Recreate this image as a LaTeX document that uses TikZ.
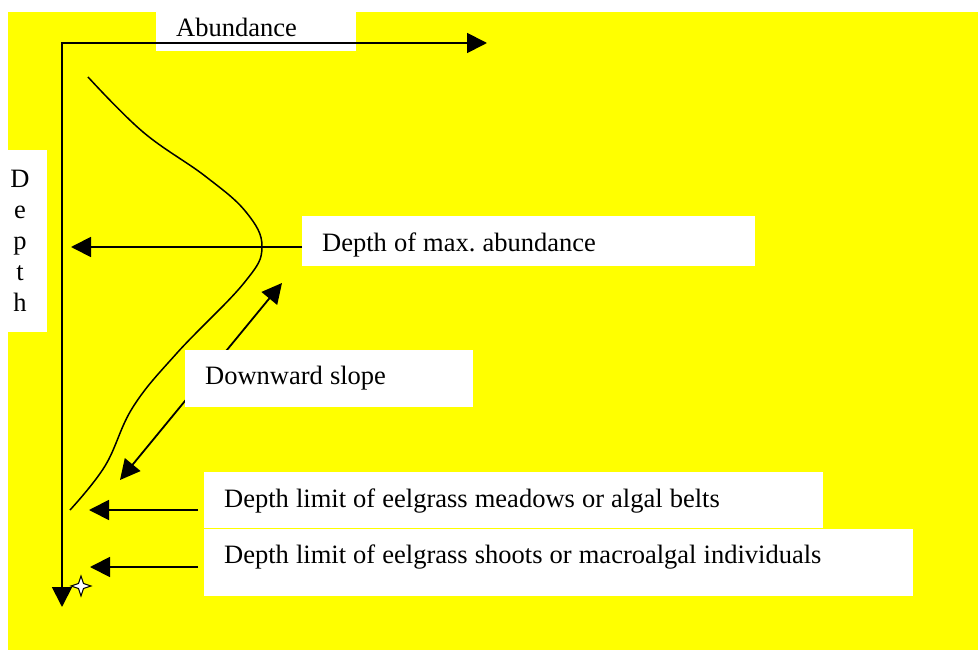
\documentclass[tikz,border=0pt]{standalone}
\usepackage{fontspec}
\setmainfont{Liberation Serif}
\usetikzlibrary{arrows.meta}
\definecolor{bgyellow}{RGB}{255,255,0}

\tikzset{
    >={Triangle[length=20pt,width=20pt]},
    pointer/.style={line width=1.8pt, ->},
    textbox/.style={fill=white, anchor=north west, inner xsep=20pt, inner ysep=0pt, align=flush left,
        execute at begin node={\spaceskip=7.1pt plus 1pt\relax}},
}

\begin{document}
\frenchspacing
\begin{tikzpicture}[x=1pt, y=-1pt, font=\fontsize{26.5}{31}\selectfont]
    \useasboundingbox (0,0) rectangle (978,650);
    % Background
    \fill[bgyellow] (8,12) rectangle (978,650);

    % Axis labels
    \node[textbox, text width=160pt, text height=24pt, text depth=15pt] (abundance) at (156,12) {Abundance};
    \node[fill=white, minimum width=54pt, minimum height=182pt, text width=30pt, inner sep=0pt, align=center] (depth) at (20,241) {D\\e\\p\\t\\h};

    % Draw the axes
    \coordinate (origin) at (62,43);
    \coordinate (xend) at (487,43);
    \coordinate (yend) at (62,607);
    \draw[pointer, <->] (xend) -- (origin) -- (yend);

    % Draw the abundance curve
    \draw[line width=1.5pt] plot[smooth, tension=0.65] coordinates {(88,77) (143,132) (205,176) (246,212) (262,247) (244,283) (177,353) (133,407) (105,466) (70,510)};

    % Slope arrow (under its label)
    \coordinate (slopetop) at (282,283);
    \coordinate (slopebottom) at (120,480);
    \draw[pointer, <->] (slopebottom) -- (slopetop);

    % Labels
    \node[textbox, text width=413pt, text height=35pt, text depth=15pt] (maxdepth) at (302,216) {Depth of max. abundance};
    \node[textbox, text width=248pt, text height=34pt, text depth=23pt] (slope) at (185,350) {Downward slope};
    \node[textbox, text width=579pt, text height=35pt, text depth=21pt] (meadows) at (204,472) {Depth limit of eelgrass meadows or algal belts};
    \node[textbox, text width=669pt, text height=34pt, text depth=33pt] (shoots) at (204,529) {Depth limit of eelgrass shoots or macroalgal individuals};

    % Arrows from the labels
    \coordinate (maxtip) at (71,247);
    \draw[pointer] (maxtip -| maxdepth.west) -- (maxtip);
    \coordinate (meadowsfrom) at (198,510);
    \coordinate (meadowstip) at (89,510);
    \draw[pointer] (meadowsfrom) -- (meadowstip);
    \coordinate (shootsfrom) at (198,567);
    \coordinate (shootstip) at (90,567);
    \draw[pointer] (shootsfrom) -- (shootstip);

    % Star at the bottom
    \draw[fill=white, line width=1pt, shift={(81,586)}] (10,0) -- (2.5,2.5) -- (0,10) -- (-2.5,2.5) -- (-10,0) -- (-2.5,-2.5) -- (0,-10) -- (2.5,-2.5) -- cycle;
\end{tikzpicture}
\end{document}
